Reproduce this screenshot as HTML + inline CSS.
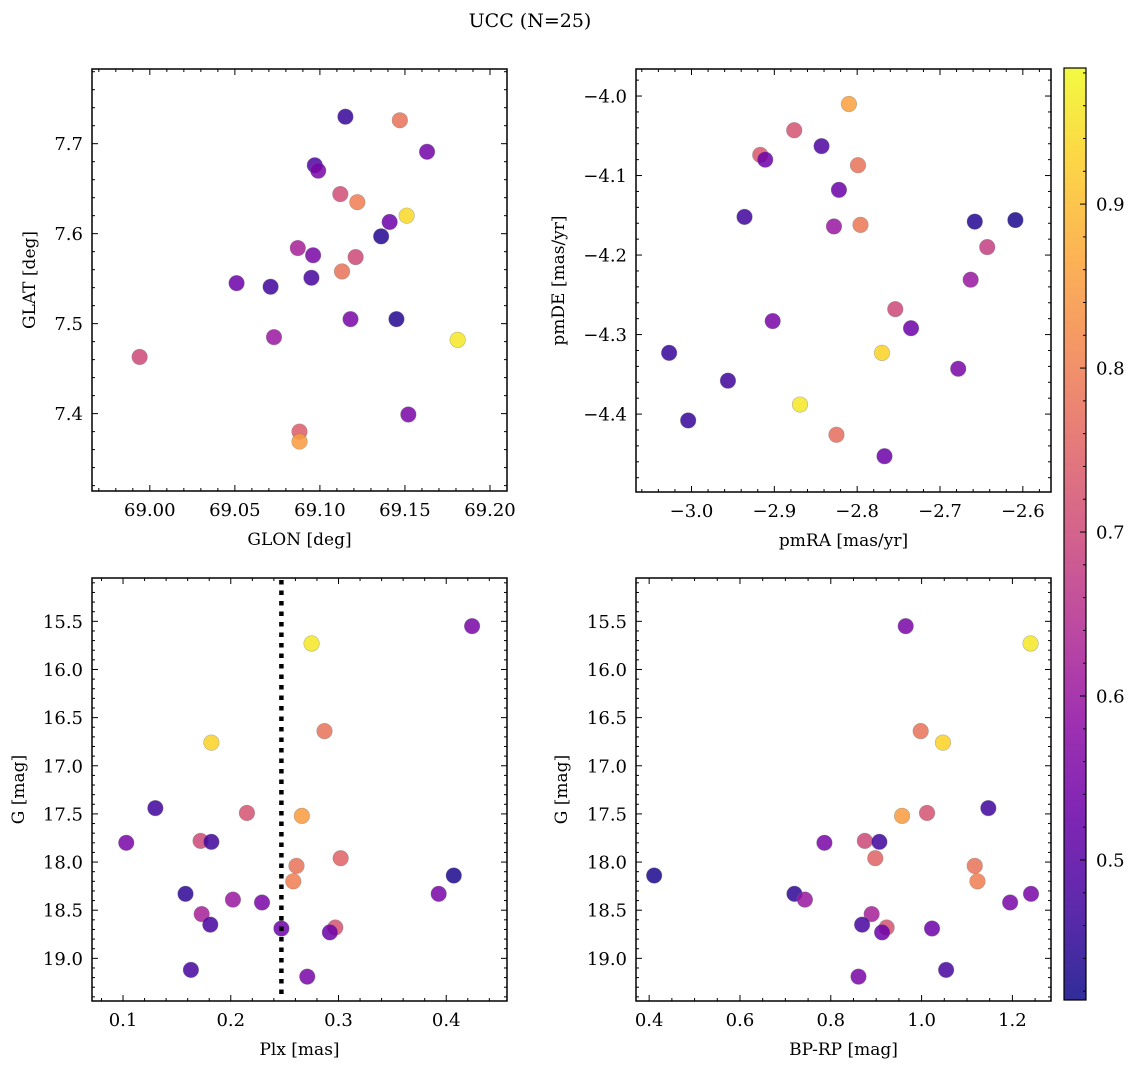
<!DOCTYPE html>
<html><head><meta charset="utf-8"><style>
html,body{margin:0;padding:0;background:#fff;}
svg{display:block;font-family:"DejaVu Serif","Liberation Serif",serif;}
</style></head><body>
<svg id="fig" width="1136" height="1068" viewBox="0 0 1136 1068" xmlns="http://www.w3.org/2000/svg">
<defs><linearGradient id="cbgrad" x1="0" y1="1" x2="0" y2="0"></linearGradient></defs>
<text x="530" y="27" text-anchor="middle" font-size="19">UCC (N=25)</text>
</svg>
<script>
// ---- data ----
const glon = [69.115,69.147,69.163,69.097,69.099,69.112,69.122,69.151,69.141,69.136,69.087,69.096,69.121,69.113,69.051,69.095,69.071,69.118,69.145,69.073,69.181,68.994,69.152,69.088,69.088];
const glat = [7.730,7.726,7.691,7.676,7.670,7.644,7.635,7.620,7.613,7.597,7.584,7.576,7.574,7.558,7.545,7.551,7.541,7.505,7.505,7.485,7.482,7.463,7.399,7.380,7.369];
const probPos = [0.46,0.78,0.54,0.49,0.55,0.71,0.80,0.94,0.53,0.44,0.62,0.55,0.70,0.78,0.53,0.48,0.47,0.55,0.44,0.60,0.96,0.70,0.55,0.74,0.85];
const pmra = [-2.810,-2.876,-2.843,-2.917,-2.911,-2.799,-2.822,-2.936,-2.828,-2.796,-2.658,-2.609,-2.643,-2.663,-2.754,-2.902,-2.735,-3.027,-2.770,-2.678,-2.956,-2.869,-3.004,-2.825,-2.767];
const pmde = [-4.010,-4.043,-4.063,-4.074,-4.080,-4.087,-4.118,-4.152,-4.164,-4.162,-4.158,-4.156,-4.190,-4.231,-4.268,-4.283,-4.292,-4.323,-4.323,-4.343,-4.358,-4.388,-4.408,-4.426,-4.453];
const probPm = [0.86,0.72,0.49,0.73,0.53,0.78,0.53,0.47,0.60,0.79,0.44,0.43,0.68,0.60,0.70,0.55,0.53,0.46,0.93,0.55,0.47,0.96,0.46,0.77,0.53];
const plx = [0.424,0.275,0.287,0.182,0.130,0.215,0.266,0.103,0.172,0.182,0.302,0.261,0.407,0.258,0.158,0.393,0.202,0.229,0.173,0.181,0.247,0.297,0.292,0.163,0.271];
const gmag = [15.55,15.73,16.64,16.76,17.44,17.49,17.52,17.80,17.78,17.79,17.96,18.04,18.14,18.20,18.33,18.33,18.39,18.42,18.54,18.65,18.69,18.68,18.73,19.12,19.19];
const bprp = [0.965,1.240,0.998,1.047,1.147,1.012,0.957,0.786,0.875,0.907,0.898,1.117,0.411,1.123,0.720,1.241,0.743,1.195,0.890,0.869,1.023,0.923,0.913,1.054,0.861];
const probCmd = [0.55,0.96,0.78,0.93,0.47,0.72,0.85,0.55,0.70,0.47,0.75,0.78,0.43,0.80,0.45,0.55,0.60,0.55,0.62,0.48,0.53,0.72,0.53,0.48,0.55];
const plxLine = [0.247];
const cbTicks = [0.5,0.6,0.7,0.8,0.9];
const vmin = 0.4146, vmax = 0.983;

const NS = "http://www.w3.org/2000/svg";
const svg = document.getElementById('fig');
function mk(tag, attrs, parent){const e=document.createElementNS(NS,tag);for(const k in attrs)e.setAttribute(k,attrs[k]);(parent||svg).appendChild(e);return e;}
const plasma=[[13,8,135],[65,4,157],[106,0,168],[143,13,164],[177,42,144],[204,71,120],[225,100,98],[242,132,75],[252,166,54],[252,206,37],[240,249,33]];
function cmap(v){let t=(v-vmin)/(vmax-vmin);t=Math.max(0,Math.min(1,t));const f=t*10;const i=Math.min(9,Math.floor(f));const r=f-i;const a=plasma[i],b=plasma[i+1];return `rgb(${Math.round(a[0]+(b[0]-a[0])*r)},${Math.round(a[1]+(b[1]-a[1])*r)},${Math.round(a[2]+(b[2]-a[2])*r)})`;}
function fmt(v,d){return (v<0?"\u2212":"")+Math.abs(v).toFixed(d);}
const TF=18, LF=17;

function panel(name,box,xd,yd,yInv,xMaj,xMin,xDec,yMaj,yMin,yDec,xlab,ylab,ylabX,xs,ys,cs){
  const [L,T,R,B]=box;
  const g=mk('g',{});
  
  
  const sx=v=>L+(v-xd[0])/(xd[1]-xd[0])*(R-L);
  const sy=yInv?(v=>T+(v-yd[0])/(yd[1]-yd[0])*(B-T)):(v=>B-(v-yd[0])/(yd[1]-yd[0])*(B-T));
  function ticks(maj,min,dec,isX){
    const lo=isX?xd[0]:Math.min(yd[0],yd[1]),hi=isX?xd[1]:Math.max(yd[0],yd[1]);
    const start=Math.ceil(lo/min-1e-6);
    for(let k=start;k*min<=hi+1e-9;k++){
      const v=k*min;const isMaj=Math.abs(v/maj-Math.round(v/maj))<1e-6;const len=isMaj?6:3;
      if(isX){const x=sx(v);mk('line',{x1:x,y1:B,x2:x,y2:B-len,stroke:'#000','stroke-width':1},g);mk('line',{x1:x,y1:T,x2:x,y2:T+len,stroke:'#000','stroke-width':1},g);
        if(isMaj){const t=mk('text',{x:x,y:B+25,'text-anchor':'middle','font-size':TF},g);t.textContent=fmt(v,dec);}}
      else{const y=sy(v);mk('line',{x1:L,y1:y,x2:L+len,y2:y,stroke:'#000','stroke-width':1},g);mk('line',{x1:R,y1:y,x2:R-len,y2:y,stroke:'#000','stroke-width':1},g);
        if(isMaj){const t=mk('text',{x:L-9,y:y+6.5,'text-anchor':'end','font-size':TF},g);t.textContent=fmt(v,dec);}}
    }
  }
  ticks(xMaj,xMin,xDec,true);ticks(yMaj,yMin,yDec,false);
  for(let i=0;i<xs.length;i++){
    const c=mk('circle',{cx:sx(xs[i]),cy:sy(ys[i]),r:7.8,fill:cmap(cs[i]),'fill-opacity':0.85,stroke:'#777','stroke-opacity':0.5,'stroke-width':0.6},g);
    
    
  }
  const fr=mk('rect',{x:L,y:T,width:R-L,height:B-T,fill:'none',stroke:'#000','stroke-width':1.5},g);
  
  
  const xl=mk('text',{x:(L+R)/2,y:B+54,'text-anchor':'middle','font-size':LF},g);xl.textContent=xlab;
  
  
  const yl=mk('text',{x:0,y:0,'text-anchor':'middle','font-size':LF,transform:`translate(${ylabX},${(T+B)/2}) rotate(-90)`},g);yl.textContent=ylab;
  
  
  return {sx,sy,g,T,B};
}

panel('panel-glon-glat',[92,69,507,491],[68.966,69.210],[7.314,7.783],false,0.05,0.01,2,0.1,0.02,1,'GLON [deg]','GLAT [deg]',35,glon,glat,probPos);
panel('panel-pm',[636,69,1051,492],[-3.067,-2.566],[-4.498,-3.966],false,0.1,0.02,1,0.1,0.02,1,'pmRA [mas/yr]','pmDE [mas/yr]',564,pmra,pmde,probPm);
const bl=panel('panel-plx-g',[92,578,507,1001],[0.0712,0.4564],[15.05,19.443],true,0.1,0.02,1,0.5,0.1,1,'Plx [mas]','G [mag]',24,plx,gmag,probCmd);
const vx=bl.sx(plxLine[0]);
const dl=mk('line',{x1:vx,y1:bl.T+2,x2:vx,y2:bl.B-1,stroke:'#000','stroke-width':4.5,'stroke-dasharray':'4.5,6'},bl.g);


panel('panel-cmd',[636,578,1051,1001],[0.371,1.285],[15.05,19.443],true,0.2,0.05,1,0.5,0.1,1,'BP-RP [mag]','G [mag]',567,bprp,gmag,probCmd);

// colorbar
const grad=document.getElementById('cbgrad');
for(let i=0;i<=20;i++){const v=vmin+(vmax-vmin)*i/20;mk('stop',{offset:(i/20),'stop-color':cmap(v)},grad);}
const cbL=1064,cbR=1086,cbT=68,cbB=1000;
const cy=v=>cbB-(v-vmin)/(vmax-vmin)*(cbB-cbT);
const cb=mk('rect',{x:cbL,y:cbT,width:cbR-cbL,height:cbB-cbT,fill:'url(#cbgrad)','fill-opacity':0.85});


for(let k=Math.ceil(vmin/0.02);k*0.02<=vmax;k++){const v=k*0.02;const y=cy(v);const maj=Math.abs(v*10-Math.round(v*10))<1e-6;mk('line',{x1:cbR,y1:y,x2:cbR-(maj?6:3),y2:y,stroke:'#000','stroke-width':1});}
cbTicks.forEach(v=>{const t=mk('text',{x:cbR+10,y:cy(v)+6.5,'font-size':TF});t.textContent=v.toFixed(1);
  
  });
const cbf=mk('rect',{x:cbL,y:cbT,width:cbR-cbL,height:cbB-cbT,fill:'none',stroke:'#000','stroke-width':1.2});


</script>
</body></html>
